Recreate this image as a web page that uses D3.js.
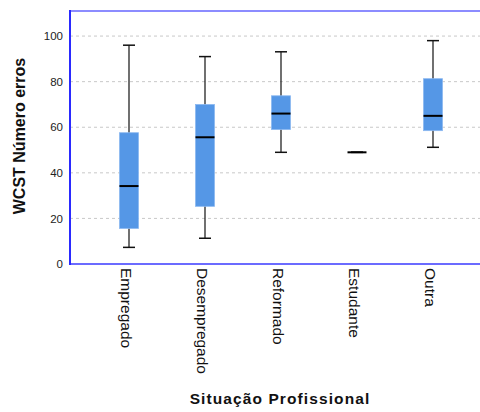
<!DOCTYPE html>
<html>
<head>
<meta charset="utf-8">
<script src="https://cdn.jsdelivr.net/npm/d3@7"></script>
<style>
  html, body { margin: 0; padding: 0; background: #fff; }
  svg { display: block; font-family: Arial, "Liberation Sans", sans-serif; }
</style>
</head>
<body>
<svg id="chart" width="480" height="412"></svg>
<script>
// Boxplot of WCST errors by professional situation
const categories = ["Empregado", "Desempregado", "Reformado", "Estudante", "Outra"];
const whiskerLow  = [7.3, 11.3, 49, 49, 51.2];
const q1          = [15.6, 25.3, 59, 49, 58.5];
const median      = [34.2, 55.6, 66, 49, 65];
const q3          = [57.6, 70, 73.8, 49, 81.3];
const whiskerHigh = [96, 91, 93.1, 49, 98];
const yTicks = [0, 20, 40, 60, 80, 100];

const data = categories.map((c, i) => ({
  cat: c, lo: whiskerLow[i], q1: q1[i], med: median[i], q3: q3[i], hi: whiskerHigh[i]
}));

const svg = d3.select("#chart");
const plotLeft = 70, plotRight = 480, plotTop = 11, plotBottom = 264;

const y = d3.scaleLinear().domain([0, 111]).range([plotBottom, plotTop]);
const x = d3.scaleBand().domain(categories).range([91, 471]);
const cx = d => x(d) + x.bandwidth() / 2;

// gridlines
svg.append("g").selectAll("line").data(yTicks.filter(t => t > 0)).join("line")
  .attr("x1", plotLeft).attr("x2", plotRight)
  .attr("y1", d => y(d)).attr("y2", d => y(d))
  .attr("stroke", "#c8c8c8").attr("stroke-width", 1).attr("stroke-dasharray", "3,3");

// y axis tick labels
const yAxis = d3.axisLeft(y).tickValues(yTicks).tickSize(0).tickPadding(7);
const ga = svg.append("g").attr("transform", `translate(${plotLeft},0)`).call(yAxis);
ga.select(".domain").remove();
ga.selectAll("text").attr("font-size", 11.5).attr("fill", "#222").attr("font-family", "Arial, 'Liberation Sans', sans-serif");

// frame lines
svg.append("line").attr("x1", plotLeft).attr("x2", plotRight).attr("y1", plotTop).attr("y2", plotTop)
  .attr("stroke", "#8c8cff").attr("stroke-width", 2);
svg.append("line").attr("x1", plotLeft).attr("x2", plotRight).attr("y1", plotBottom).attr("y2", plotBottom)
  .attr("stroke", "#6b6bff").attr("stroke-width", 2);
svg.append("line").attr("x1", plotLeft).attr("x2", plotLeft).attr("y1", plotTop - 1).attr("y2", plotBottom + 1)
  .attr("stroke", "#2a2aff").attr("stroke-width", 2);

const boxW = 19, capW = 12;
const g = svg.append("g").selectAll("g").data(data).join("g");

// whiskers
g.append("line").attr("x1", d => cx(d.cat)).attr("x2", d => cx(d.cat))
  .attr("y1", d => y(d.lo)).attr("y2", d => y(d.hi))
  .attr("stroke", "#111").attr("stroke-width", 1.2);
g.append("line").attr("x1", d => cx(d.cat) - capW / 2).attr("x2", d => cx(d.cat) + capW / 2)
  .attr("y1", d => y(d.hi)).attr("y2", d => y(d.hi))
  .attr("stroke", "#111").attr("stroke-width", 1.5);
g.append("line").attr("x1", d => cx(d.cat) - capW / 2).attr("x2", d => cx(d.cat) + capW / 2)
  .attr("y1", d => y(d.lo)).attr("y2", d => y(d.lo))
  .attr("stroke", "#111").attr("stroke-width", 1.5);

// boxes
g.filter(d => d.q3 > d.q1).append("rect")
  .attr("x", d => cx(d.cat) - boxW / 2).attr("width", boxW)
  .attr("y", d => y(d.q3)).attr("height", d => y(d.q1) - y(d.q3))
  .attr("fill", "#5597e6").attr("stroke", "#8cb8f0").attr("stroke-width", 0.8);

// medians
g.append("line").attr("x1", d => cx(d.cat) - boxW / 2).attr("x2", d => cx(d.cat) + boxW / 2)
  .attr("y1", d => y(d.med)).attr("y2", d => y(d.med))
  .attr("stroke", "#000").attr("stroke-width", 2);

// category labels, vertical
svg.append("g").selectAll("text").data(categories).join("text")
  .attr("transform", d => `translate(${cx(d) - 4},268) rotate(90)`)
  .attr("dominant-baseline", "middle")
  .attr("font-size", 15.5).attr("fill", "#111")
  .text(d => d);

// axis titles
svg.append("text").attr("x", 280).attr("y", 404).attr("text-anchor", "middle")
  .attr("font-size", 15.5).attr("font-weight", "bold").attr("fill", "#111")
  .attr("letter-spacing", 1.1)
  .text("Situação Profissional");
svg.append("text").attr("transform", "translate(25,136) rotate(-90)").attr("text-anchor", "middle")
  .attr("font-size", 16).attr("font-weight", "bold").attr("fill", "#111")
  .text("WCST Número erros");
</script>
</body>
</html>
